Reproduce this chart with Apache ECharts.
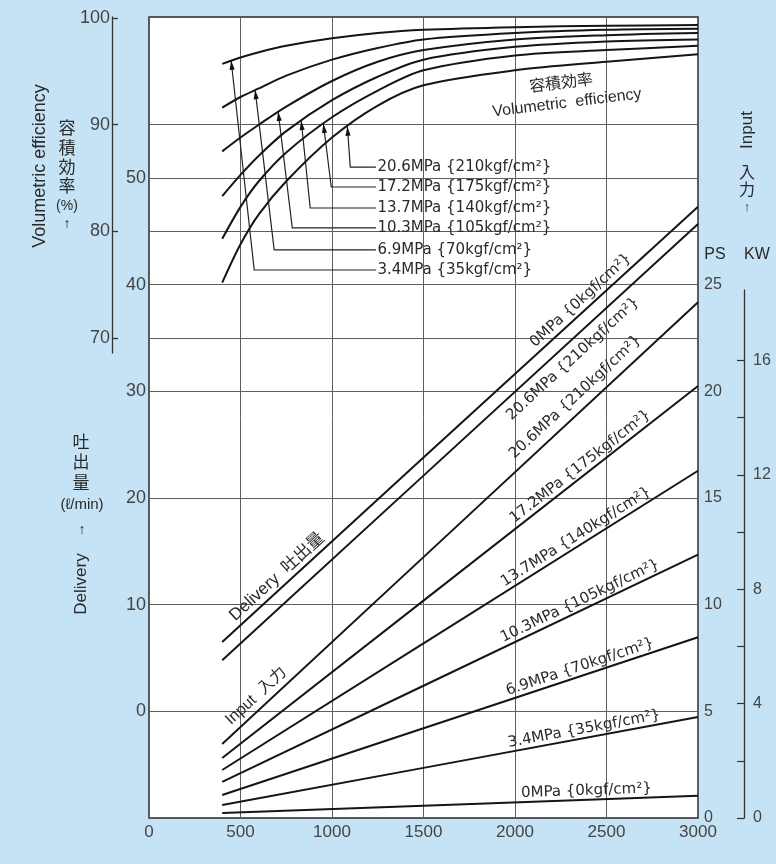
<!DOCTYPE html>
<html>
<head>
<meta charset="utf-8">
<script src="https://cdn.jsdelivr.net/npm/echarts@6/dist/echarts.min.js"></script>
<style>
html,body{margin:0;padding:0;background:#c5e3f5;}
#c{width:776px;height:864px;}
</style>
</head>
<body>
<div id="c"></div>
<script>
// ---------- data ----------
const rpm = [400, 500, 600, 750, 1000, 1250, 1500, 2000, 2500, 3000];
const eff34  = [95.7, 96.3, 96.8, 97.4, 98.1, 98.6, 98.9, 99.15, 99.28, 99.35];
const eff69  = [91.6, 92.6, 93.4, 94.6, 96.1, 97.2, 98.0, 98.6, 98.9, 99.0];
const eff103 = [87.5, 88.8, 90.0, 91.7, 94.1, 95.9, 97.0, 98.0, 98.4, 98.6];
const eff137 = [83.3, 85.3, 87.1, 89.4, 92.3, 94.5, 96.1, 97.3, 97.8, 98.0];
const eff172 = [79.3, 82.3, 84.7, 87.4, 90.7, 93.2, 95.1, 96.5, 97.0, 97.4];
const eff206 = [75.2, 78.8, 81.6, 84.7, 88.8, 91.8, 93.7, 95.1, 95.9, 96.6];

const lineRpm = [400, 1500, 3000];
const delivery0   = [6.5, 23.8, 47.3];
const delivery206 = [4.8, 22.1, 45.7];
const input0   = [0.24, 0.58, 1.04];
const input34  = [0.61, 2.35, 4.73];
const input69  = [1.08, 4.21, 8.47];
const input103 = [1.69, 6.20, 12.35];
const input137 = [2.25, 8.19, 16.28];
const input172 = [2.81, 10.19, 20.25];
const input206 = [3.47, 12.23, 24.18];

const xTicks = [0, 500, 1000, 1500, 2000, 2500, 3000];
const effTicks = [70, 80, 90, 100];
const deliveryTicks = [0, 10, 20, 30, 40, 50];
const psTicks = [0, 5, 10, 15, 20, 25];
const psGridLines = [5, 10, 15, 20, 22.5, 25, 27.5, 30, 32.5];
const kwTicks = [0, 4, 8, 12, 16];
const kwMinorTicks = [0, 2, 4, 6, 8, 10, 12, 14, 16];

const pressureLabels = ['3.4MPa {35kgf/cm²}', '6.9MPa {70kgf/cm²}', '10.3MPa {105kgf/cm²}',
                        '13.7MPa {140kgf/cm²}', '17.2MPa {175kgf/cm²}', '20.6MPa {210kgf/cm²}'];
// leader annotation anchors (rpm on the curve, rpm of the foot, row level in %)
const leaderTipRpm  = [449, 580, 706, 832, 953, 1084];
const leaderFootRpm = [575, 684, 783, 881, 996, 1100];
const leaderRowEff  = [76.38, 78.26, 80.32, 82.19, 84.16, 86.03];
const legendRpm = 1248;

// ---------- chart ----------
const FONT = "'Liberation Sans','Noto Sans CJK JP',sans-serif";
const FONT2 = "'DejaVu Sans','Noto Sans CJK JP',sans-serif";
const CJK = "'Noto Sans CJK JP',sans-serif";
const LINE = '#151515';
const GRIDC = '#5e5e5e';
const NUMC = '#454545';
const TXT = '#2a2a2a';

const chart = echarts.init(document.getElementById('c'));
const pairs = (xs, ys) => xs.map((x, i) => [x, ys[i]]);
const effSeries = [eff34, eff69, eff103, eff137, eff172, eff206];
const inputSeries = [input0, input34, input69, input103, input137, input172, input206];

const series = [];
effSeries.forEach((d, i) => series.push({
  type: 'line', xAxisIndex: 0, yAxisIndex: 2, data: pairs(rpm, d), smooth: 0.3,
  symbol: 'none', silent: true, lineStyle: {color: LINE, width: 2}
}));
[delivery0, delivery206].forEach(d => series.push({
  type: 'line', xAxisIndex: 0, yAxisIndex: 0, data: pairs(lineRpm, d),
  symbol: 'none', silent: true, lineStyle: {color: LINE, width: 2}
}));
inputSeries.forEach(d => series.push({
  type: 'line', xAxisIndex: 0, yAxisIndex: 1, data: pairs(lineRpm, d),
  symbol: 'none', silent: true, lineStyle: {color: LINE, width: 2}
}));

const numLabel = (extra) => Object.assign({fontSize: 17, color: NUMC, fontFamily: FONT}, extra);

const option = {
  backgroundColor: '#c5e3f5',
  animation: false,
  grid: [
    {left: 149, right: 78, top: 17, bottom: 46, show: true, backgroundColor: '#ffffff', borderColor: '#2a2a2a', borderWidth: 1.5},
    {left: 112, width: 1, top: 17, height: 336, show: false},
    {left: 744, width: 1, top: 290, bottom: 46, show: false}
  ],
  xAxis: [
    {gridIndex: 0, type: 'value', min: 0, max: 3000, interval: 500,
     axisLine: {show: false}, axisTick: {show: false},
     splitLine: {show: true, lineStyle: {color: GRIDC, width: 1}},
     axisLabel: numLabel({customValues: xTicks, margin: 6, formatter: v => String(v),
                          color: v => (v === 0 ? '#9fb6c4' : NUMC)})},
    {gridIndex: 1, type: 'value', min: 0, max: 1, show: false},
    {gridIndex: 2, type: 'value', min: 0, max: 1, show: false}
  ],
  yAxis: [
    // 0: delivery (l/min)
    {gridIndex: 0, type: 'value', position: 'left', min: -10, max: 65.1,
     axisLine: {show: false}, axisTick: {show: false}, splitLine: {show: false},
     axisLabel: numLabel({customValues: deliveryTicks, margin: 3, fontSize: 18})},
    // 1: input PS
    {gridIndex: 0, type: 'value', position: 'right', min: 0, max: 37.55,
     axisLine: {show: false}, axisTick: {show: false, customValues: psGridLines},
     splitLine: {show: true, lineStyle: {color: GRIDC, width: 1}},
     axisLabel: numLabel({customValues: psTicks, margin: 6, fontSize: 16})},
    // 2: volumetric efficiency (hidden, for the curves)
    {gridIndex: 0, type: 'value', min: 25, max: 100.1, show: false},
    // 3: volumetric efficiency axis (visible)
    {gridIndex: 1, type: 'value', position: 'left', min: 68.6, max: 100.1,
     axisLine: {show: true, lineStyle: {color: '#333', width: 1.3}},
     axisTick: {show: true, inside: true, length: 6, customValues: effTicks, lineStyle: {color: '#333', width: 1.3}},
     splitLine: {show: false},
     axisLabel: numLabel({customValues: effTicks, margin: 2, fontSize: 18})},
    // 4: KW axis
    {gridIndex: 2, type: 'value', position: 'right', min: 0, max: 18.46,
     axisLine: {show: true, lineStyle: {color: '#333', width: 1.3}},
     axisTick: {show: true, inside: true, length: 7, customValues: kwMinorTicks, lineStyle: {color: '#333', width: 1.2}},
     splitLine: {show: false},
     axisLabel: numLabel({customValues: kwTicks, margin: 8, fontSize: 16})}
  ],
  series: series
};
chart.setOption(option);

// ---------- annotations ----------
const g = [];
function txt(x, y, text, o) {
  o = o || {};
  g.push({type: 'text', x: x, y: y, rotation: (o.rot || 0) * Math.PI / 180, silent: true,
    style: {text: text, fill: o.color || TXT, font: (o.size || 16) + 'px ' + (o.font || FONT),
            align: o.align || 'center', verticalAlign: o.va || 'middle'}});
}
// left titles
txt(40, 166, 'Volumetric efficiency', {rot: 90, size: 18});
[['容', 128], ['積', 148], ['効', 167], ['率', 186]].forEach(a => txt(67, a[1], a[0], {size: 17, font: CJK}));
txt(67, 206, '(%)', {size: 14});
txt(67, 224, '↑', {size: 14});
[['吐', 442], ['出', 462], ['量', 483]].forEach(a => txt(81, a[1], a[0], {size: 17, font: CJK}));
txt(82, 505, '(ℓ/min)', {size: 15});
txt(82, 530, '↑', {size: 14});
txt(81, 584, 'Delivery', {rot: 90, size: 17});
// right titles
txt(747, 130, 'Input', {rot: 90, size: 17});
txt(747, 172, '入', {size: 16, font: CJK});
txt(747, 189, '力', {size: 16, font: CJK});
txt(747, 207, '↑', {size: 13});
txt(715, 255, 'PS', {size: 16});
txt(757, 255, 'KW', {size: 16});
// in-plot title for efficiency curves
txt(561, 82, '容積効率', {rot: 7, size: 16, font: CJK});
txt(567, 103, 'Volumetric  efficiency', {rot: 7, size: 16});

const interp = (xs, ys, x) => {
  for (let i = 0; i < xs.length - 1; i++) {
    if (x >= xs[i] && x <= xs[i + 1]) return ys[i] + (ys[i + 1] - ys[i]) * (x - xs[i]) / (xs[i + 1] - xs[i]);
  }
  return ys[ys.length - 1];
};
const px = (k, r, v) => chart.convertToPixel({xAxisIndex: 0, yAxisIndex: k}, [r, v]);

// pressure legend with leaders and arrowheads
effSeries.forEach((d, i) => {
  const tip = px(2, leaderTipRpm[i], interp(rpm, d, leaderTipRpm[i]));
  const foot = px(2, leaderFootRpm[i], leaderRowEff[i]);
  const end = px(2, legendRpm - 8, leaderRowEff[i]);
  g.push({type: 'polyline', silent: true, shape: {points: [end, foot, tip]},
          style: {stroke: '#222', lineWidth: 1.2, fill: null}});
  const dx = tip[0] - foot[0], dy = tip[1] - foot[1], L = Math.hypot(dx, dy);
  const ux = dx / L, uy = dy / L, nx = -uy, ny = ux;
  const bx = tip[0] - ux * 9, by = tip[1] - uy * 9;
  g.push({type: 'polygon', silent: true,
          shape: {points: [tip, [bx + nx * 2.6, by + ny * 2.6], [bx - nx * 2.6, by - ny * 2.6]]},
          style: {fill: '#111'}});
  const t = px(2, legendRpm, leaderRowEff[i]);
  txt(t[0], t[1], pressureLabels[i], {align: 'left', size: 15, font: FONT2});
});

// labels along straight lines (offset > 0: above the line, < 0: below)
function lineLabel(k, ys, r, text, off, size, font) {
  const p = px(k, r, interp(lineRpm, ys, r));
  const a = px(k, lineRpm[0], ys[0]), b = px(k, lineRpm[2], ys[2]);
  const ang = Math.atan2(-(b[1] - a[1]), b[0] - a[0]);
  const nx = -Math.sin(ang), ny = -Math.cos(ang);
  txt(p[0] + nx * off, p[1] + ny * off, text, {rot: ang * 180 / Math.PI, size: size || 15, font: font || FONT2});
}
lineLabel(0, delivery0, 740, 'Delivery  吐出量', 11, 17, FONT);
lineLabel(1, input206, 630, 'Input  入力', 12, 16, FONT);
lineLabel(0, delivery0, 2396, '0MPa {0kgf/cm²}', 10);
lineLabel(0, delivery206, 2261, '20.6MPa {210kgf/cm²}', -15);
lineLabel(1, input206, 2381, '20.6MPa {210kgf/cm²}', 14);
lineLabel(1, input172, 2387, '17.2MPa {175kgf/cm²}', 9);
lineLabel(1, input137, 2359, '13.7MPa {140kgf/cm²}', 9);
lineLabel(1, input103, 2376, '10.3MPa {105kgf/cm²}', 9);
lineLabel(1, input69, 2370, '6.9MPa {70kgf/cm²}', 9);
lineLabel(1, input34, 2387, '3.4MPa {35kgf/cm²}', 9);
lineLabel(1, input0, 2392, '0MPa {0kgf/cm²}', 9);

chart.setOption({graphic: g});
</script>
</body>
</html>
